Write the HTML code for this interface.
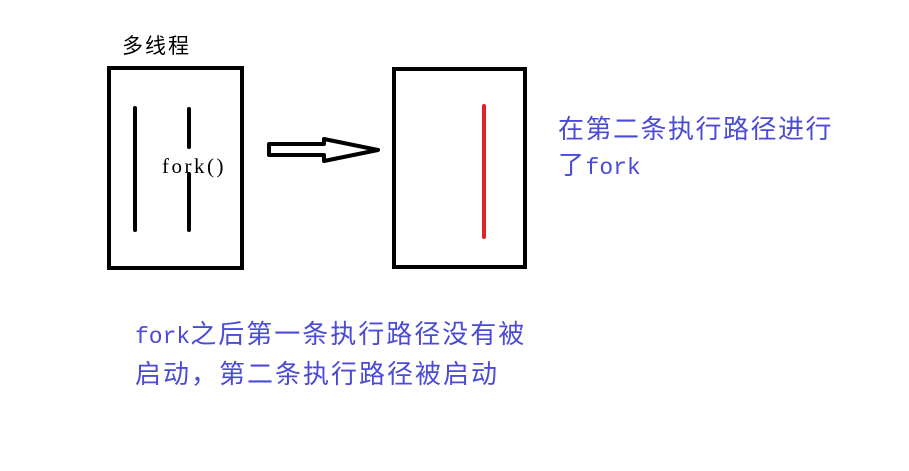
<!DOCTYPE html>
<html><head><meta charset="utf-8"><style>
body{margin:0;background:#fff;width:909px;height:471px;overflow:hidden;position:relative}
.t{position:absolute;white-space:nowrap;font-family:"Noto Sans CJK SC",sans-serif}
.m{font-family:"Liberation Mono",monospace;letter-spacing:0;font-size:23px}
</style></head><body>
<svg width="909" height="471" style="position:absolute;left:0;top:0">
<rect x="109" y="68" width="133" height="200" fill="none" stroke="#000" stroke-width="4"/>
<line x1="135" y1="108" x2="135" y2="230" stroke="#000" stroke-width="4" stroke-linecap="round"/>
<line x1="189" y1="109" x2="189" y2="147" stroke="#000" stroke-width="4" stroke-linecap="round"/>
<line x1="189" y1="174" x2="189" y2="230" stroke="#000" stroke-width="4" stroke-linecap="round"/>
<polygon points="269,144 324,144 324,139 378,150 324,161 324,155 269,155" fill="none" stroke="#000" stroke-width="4" stroke-linejoin="round"/>
<rect x="394" y="69" width="131" height="198" fill="none" stroke="#000" stroke-width="4"/>
<line x1="484" y1="106" x2="484" y2="237" stroke="#e0202a" stroke-width="4" stroke-linecap="round"/>
</svg>
<div class="t" style="left:122px;top:30px;font-size:21px;letter-spacing:2px;color:#000">多线程</div>
<div class="t" style="left:162px;top:154px;font-size:21px;font-family:'Liberation Serif',serif;letter-spacing:2.5px;color:#000">fork()</div>
<div class="t" style="left:558px;top:110px;font-size:26px;letter-spacing:1.5px;color:#4b4bd8;line-height:36px">在第二条执行路径进行<br>了<span class="m">fork</span></div>
<div class="t" style="left:135px;top:315px;font-size:26px;letter-spacing:2px;color:#4b4bd8;line-height:36px"><span class="m">fork</span>之后第一条执行路径没有被<br>启动，第二条执行路径被启动</div>
</body></html>
